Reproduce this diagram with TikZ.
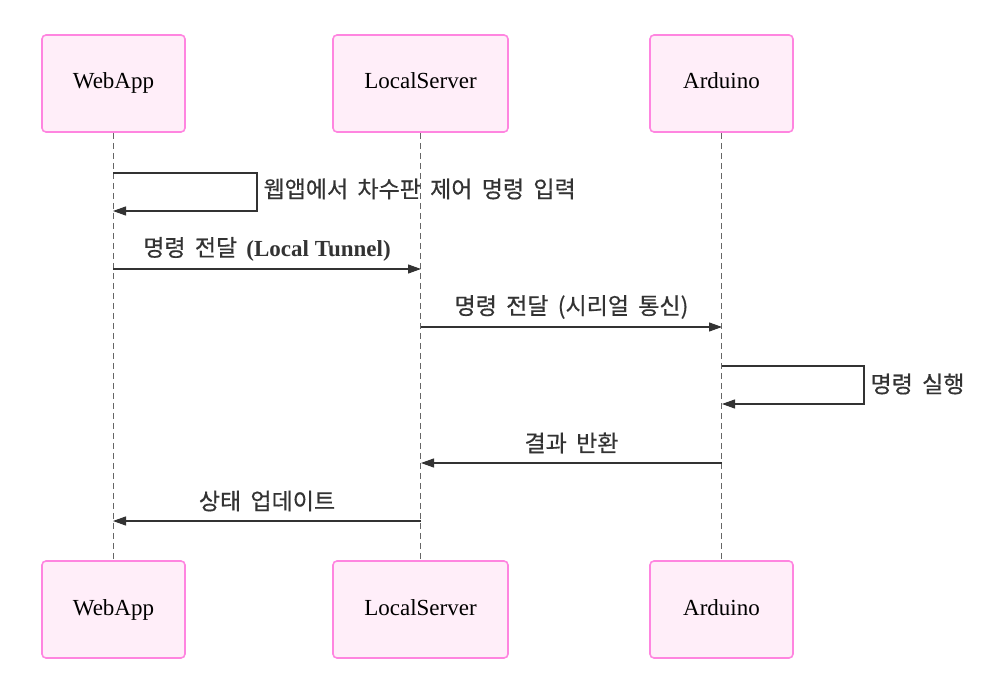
\documentclass[tikz,border=0pt]{standalone}
\usepackage{fontspec}
\setmainfont{Liberation Serif}
\newfontfamily\krfont[Script=Hangul,WordSpace=1.8,FakeBold=0.5]{Noto Sans CJK KR}
\usetikzlibrary{arrows.meta, positioning}
\definecolor{actorfill}{HTML}{FFEEF9}
\definecolor{actorline}{HTML}{FF85E0}
\definecolor{msgline}{HTML}{333333}
\definecolor{lifeline}{HTML}{666666}

\begin{document}
\begin{tikzpicture}[x=1pt, y=-1pt,
    actor/.style={draw=actorline, line width=1.6pt, fill=actorfill, rounded corners=4pt,
        minimum width=143pt, minimum height=97pt, text height=16pt, text depth=5pt,
        font=\fontsize{23}{27}\selectfont, text=black},
    life/.style={draw=lifeline, line width=0.8pt, dash pattern=on 6pt off 4pt},
    msg/.style={draw=msgline, line width=1.1pt, -{Triangle[length=13pt,width=9pt]}},
    lbl/.style={text=msgline, font=\krfont\fontsize{23}{27}\selectfont},
]
    \useasboundingbox (0,0) rectangle (1004,700);

    % Draw the participants
    \node[actor] (webtop) at (113.5,83.5) {WebApp};
    \node[actor, minimum width=175pt] (servertop) at (420.5,83.5) {LocalServer};
    \node[actor] (ardtop) at (721.5,83.5) {Arduino};
    \node[actor] (webbot) at (113.5,609.5) {WebApp};
    \node[actor, minimum width=175pt] (serverbot) at (420.5,609.5) {LocalServer};
    \node[actor] (ardbot) at (721.5,609.5) {Arduino};

    % Draw the lifelines
    \draw[life] (webtop) -- (webbot);
    \draw[life] (servertop) -- (serverbot);
    \draw[life] (ardtop) -- (ardbot);

    % Points on the lifelines
    \coordinate (web1) at (113,173);
    \coordinate (web2) at (113,211);
    \coordinate (web3) at (113,269);
    \coordinate (srv3) at (421,269);
    \coordinate (srv4) at (421,327);
    \coordinate (ard4) at (722,327);
    \coordinate (ard5) at (722,366);
    \coordinate (ard6) at (722,404);
    \coordinate (ard7) at (722,463);
    \coordinate (srv7) at (421,463);
    \coordinate (srv8) at (421,521);
    \coordinate (web8) at (113,521);

    % Draw the messages
    \draw[msg] (web1) -- ++(144,0) |- (web2);
    \node[lbl, anchor=west] (input) at (260,189) {웹앱에서 차수판 제어 명령 입력};

    \draw[msg] (web3) -- node[lbl, yshift=20pt] (tunnel)
        {명령 전달 {\rmfamily\bfseries\fontsize{23}{27}\selectfont (Local Tunnel)}} (srv3);
    \draw[msg] (srv4) -- node[lbl, yshift=20pt] (serial) {명령 전달 (시리얼 통신)} (ard4);

    \draw[msg] (ard5) -- ++(142,0) |- (ard6);
    \node[lbl, anchor=west] (run) at (867,384) {명령 실행};

    \draw[msg] (ard7) -- node[lbl, yshift=20pt] (result) {결과 반환} (srv7);
    \draw[msg] (srv8) -- node[lbl, yshift=20pt] (update) {상태 업데이트} (web8);
\end{tikzpicture}
\end{document}
